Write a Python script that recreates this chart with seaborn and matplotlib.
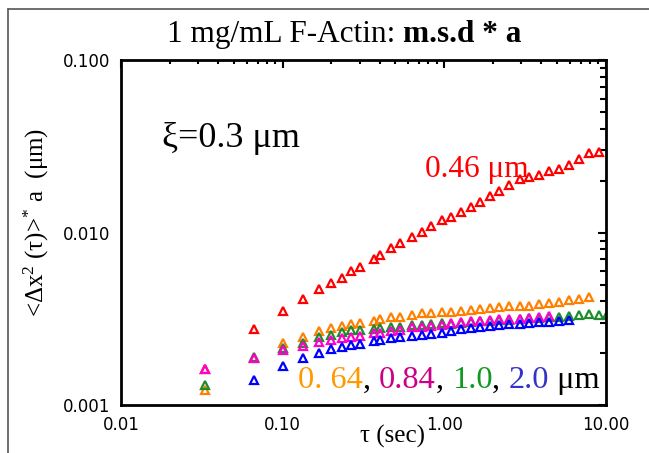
import numpy as np
import pandas as pd
import seaborn as sns
import matplotlib
matplotlib.use("Agg")
import matplotlib.pyplot as plt
from matplotlib.ticker import FixedLocator, FixedFormatter, LogLocator, NullFormatter
from matplotlib.lines import Line2D

# ---- data ----
tau = [0.0333, 0.0667, 0.100, 0.133, 0.167, 0.200, 0.233, 0.267, 0.300, 0.367,
       0.400, 0.467, 0.533, 0.633, 0.733, 0.833, 0.967, 1.10, 1.27, 1.47,
       1.67, 1.93, 2.20, 2.53, 2.93, 3.37, 3.87, 4.45, 5.13, 5.92,
       6.83, 7.87, 9.08, 10.2]

msd_046 = [0.00162, 0.00276, 0.00351, 0.00412, 0.00469, 0.00512, 0.00548, 0.00602, 0.00635, 0.00707,
           0.00742, 0.00810, 0.00871, 0.00944, 0.01013, 0.01098, 0.01185, 0.01228, 0.01313, 0.01405,
           0.01514, 0.01633, 0.01754, 0.01892, 0.02042, 0.02097, 0.02163, 0.02291, 0.02335, 0.02472,
           0.02668, 0.02891, 0.02953]
msd_064 = [0.00122, 0.00188, 0.00230, 0.00248, 0.00269, 0.00281, 0.00289, 0.00296, 0.00301, 0.00308,
           0.00315, 0.00324, 0.00325, 0.00334, 0.00342, 0.00343, 0.00348, 0.00348, 0.00352, 0.00356,
           0.00361, 0.00367, 0.00369, 0.00375, 0.00377, 0.00377, 0.00385, 0.00392, 0.00398, 0.00407,
           0.00412, 0.00422]
msd_10 = [0.00131, 0.00190, 0.00213, 0.00230, 0.00248, 0.00256, 0.00264, 0.00271, 0.00271, 0.00276,
          0.00278, 0.00282, 0.00285, 0.00292, 0.00292, 0.00295, 0.00298, 0.00297, 0.00301, 0.00305,
          0.00307, 0.00309, 0.00311, 0.00313, 0.00315, 0.00318, 0.00321, 0.00324, 0.00326, 0.00328,
          0.00332, 0.00336, 0.00335, 0.00333]
msd_084 = [0.00161, 0.00188, 0.00208, 0.00220, 0.00232, 0.00239, 0.00244, 0.00249, 0.00251, 0.00261,
           0.00263, 0.00270, 0.00272, 0.00282, 0.00285, 0.00287, 0.00290, 0.00298, 0.00302, 0.00308,
           0.00308, 0.00311, 0.00314, 0.00315, 0.00315, 0.00321, 0.00323, 0.00328]
msd_20 = [0.00140, 0.00168, 0.00188, 0.00201, 0.00210, 0.00218, 0.00222, 0.00227, 0.00236, 0.00238,
          0.00244, 0.00247, 0.00251, 0.00255, 0.00259, 0.00263, 0.00270, 0.00275, 0.00279, 0.00285,
          0.00287, 0.00291, 0.00294, 0.00295, 0.00300, 0.00302, 0.00304, 0.00308, 0.00311]
tau_20 = tau[1:1 + len(msd_20)]

xticks = [0.01, 0.1, 1.0, 10.0]
xticklabels = ["0.01", "0.10", "1.00", "10.00"]
yticks = [0.001, 0.01, 0.1]
yticklabels = ["0.001", "0.010", "0.100"]

series = [
    ("0.46", tau[:len(msd_046)], msd_046, "#ff0000"),
    ("0.64", tau[:len(msd_064)], msd_064, "#ff8000"),
    ("1.0", tau[:len(msd_10)], msd_10, "#1e8c2e"),
    ("0.84", tau[:len(msd_084)], msd_084, "#ff00cc"),
    ("2.0", tau_20, msd_20, "#0000ff"),
]

sns.set_theme(style="white")
plt.rcParams["font.family"] = ["Liberation Serif", "DejaVu Serif"]
plt.rcParams["mathtext.fontset"] = "custom"
plt.rcParams["mathtext.rm"] = "Liberation Serif"
plt.rcParams["mathtext.it"] = "Liberation Serif:italic"

W, H = 649, 453
fig = plt.figure(figsize=(W / 100, H / 100), dpi=100)
fig.patch.set_facecolor("white")
L, R, T, B = 121, 605.7, 60.3, 405
ax = fig.add_axes([L / W, 1 - B / H, (R - L) / W, (B - T) / H])
ax.set_facecolor("white")

for name, x, y, c in series:
    df = pd.DataFrame({"tau": x, "msd": y})
    sns.lineplot(data=df, x="tau", y="msd", ax=ax, linestyle="", marker="^",
                 mfc="none", mec=c, ms=5.8, mew=1.6, estimator=None, sort=False)

ax.set_xscale("log")
ax.set_yscale("log")
ax.set_xlim(0.01, 10)
ax.set_ylim(0.001, 0.1)
ax.xaxis.set_major_locator(FixedLocator(xticks))
ax.xaxis.set_major_formatter(FixedFormatter(xticklabels))
ax.yaxis.set_major_locator(FixedLocator(yticks))
ax.yaxis.set_major_formatter(FixedFormatter(yticklabels))
ax.xaxis.set_minor_locator(LogLocator(base=10, subs=np.arange(2, 10)))
ax.yaxis.set_minor_locator(LogLocator(base=10, subs=np.arange(2, 10)))
ax.xaxis.set_minor_formatter(NullFormatter())
ax.yaxis.set_minor_formatter(NullFormatter())
ax.set_xlabel("")
ax.set_ylabel("")
for sp in ax.spines.values():
    sp.set_visible(True)
    sp.set_color("black")
    sp.set_linewidth(2.0)
ax.tick_params(axis="both", which="both", direction="in", top=True, right=True,
               color="black", width=1.5)
ax.tick_params(axis="both", which="major", length=6)
ax.tick_params(axis="y", which="minor", length=4.5)
ax.tick_params(axis="x", which="minor", length=2.8)
ax.tick_params(axis="x", which="major", pad=8)
ax.tick_params(axis="y", which="major", pad=8)
for lab in ax.get_xticklabels() + ax.get_yticklabels():
    lab.set_fontfamily("DejaVu Sans")
    lab.set_fontsize(12)
    lab.set_color("black")

# outer frame lines
fig.add_artist(Line2D([8 / W, 1.0], [1 - 9 / H, 1 - 9 / H], transform=fig.transFigure,
                      color="#555555", lw=1.2))
fig.add_artist(Line2D([8 / W, 8 / W], [0, 1 - 9 / H], transform=fig.transFigure,
                      color="#555555", lw=1.2))

fig.canvas.draw()
renderer = fig.canvas.get_renderer()


def seq_text(x0, ybase, parts, size):
    x = x0
    for s, col, weight in parts:
        t = fig.text(x / W, 1 - ybase / H, s, color=col, fontsize=size,
                     fontweight=weight, ha="left", va="baseline")
        bb = t.get_window_extent(renderer=renderer)
        x = x + bb.width
    return x


# title (regular + bold)
seq_text(166.7, 42, [("1 mg/mL F-Actin: ", "black", "normal"),
                     ("m.s.d * a", "black", "bold")], 22.5)

fig.text(161.7 / W, 1 - 147 / H, "ξ=0.3 μm", fontsize=26, color="black",
         ha="left", va="baseline")
fig.text(425 / W, 1 - 176.5 / H, "0.46 μm", fontsize=22.5, color="#ff0000",
         ha="left", va="baseline")

seq_text(298, 388, [("0. 64", "#ff9900", "normal"), (", ", "black", "normal"),
                    ("0.84", "#cc0088", "normal"), (", ", "black", "normal"),
                    ("1.0", "#119922", "normal"), (", ", "black", "normal"),
                    ("2.0", "#3333cc", "normal"), (" μm", "black", "normal")], 23.3)

fig.text(392 / W, 1 - 443 / H, "τ (sec)", fontsize=18, color="black",
         ha="center", va="baseline")
fig.text(36 / W, 1 - 222 / H, "<Δx$^{2}$ (τ)>$^{*}$ a  (μm)", fontsize=18,
         color="black", rotation=90, ha="center", va="center")

fig.savefig("out.png", dpi=100, facecolor="white")
